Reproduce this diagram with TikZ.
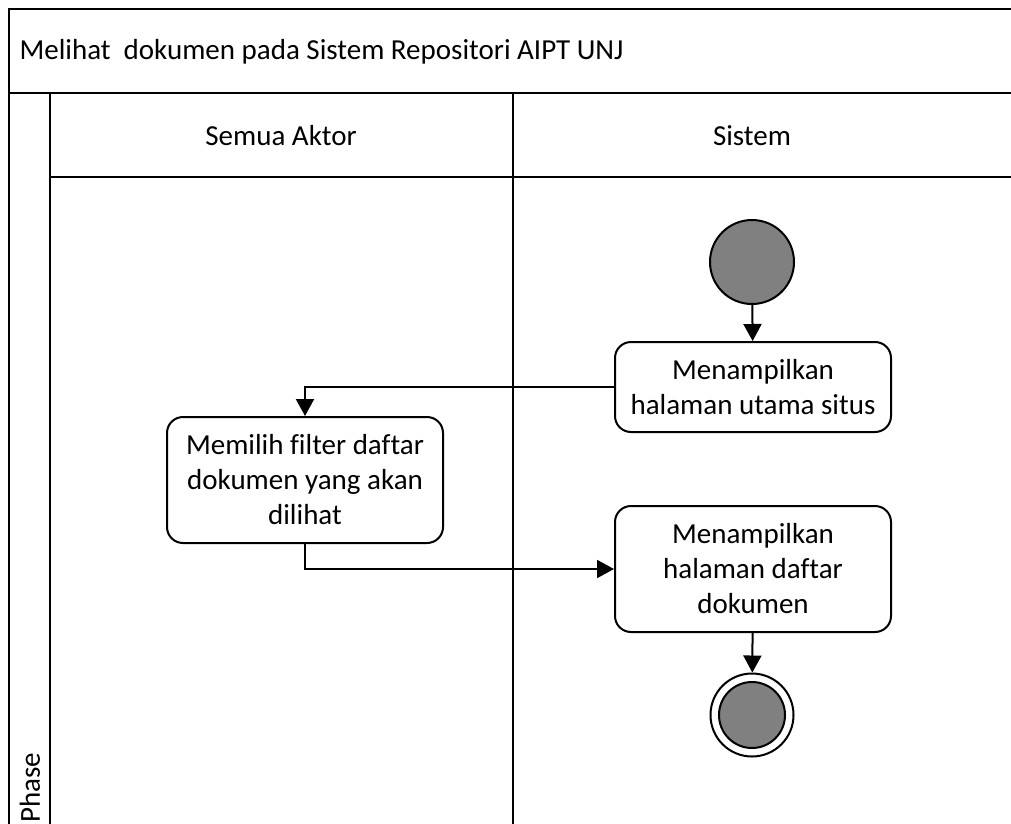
\documentclass[tikz,border=0pt]{standalone}
\usepackage{fontspec}
\setmainfont[Ligatures=NoCommon]{Carlito}
\usetikzlibrary{arrows.meta}
\definecolor{dotgray}{HTML}{808080}
\begin{document}
\begin{tikzpicture}[x=1pt,y=-1pt,
  every node/.style={font=\fontsize{29}{35}\selectfont},
  frameline/.style={line width=2.4pt},
  action/.style={draw, line width=2pt, rounded corners=16pt, align=center,
    minimum width=276pt, inner sep=0pt},
  startdot/.style={circle, draw, line width=2pt, fill=dotgray, minimum size=84pt, inner sep=0pt},
  flow/.style={line width=2pt, -{Triangle[length=17pt,width=18pt]}}]
\useasboundingbox (0,0) rectangle (1011,823);
% swimlane frame
\draw[frameline] (1030,9) -- (9,9) -- (9,840);
\draw[frameline] (9,93) -- (1030,93);
\draw[frameline] (50,93) -- (50,840);
\draw[frameline] (50,177) -- (1030,177);
\draw[frameline] (513,93) -- (513,840);
\node[anchor=west] (title) at (16,52) {Melihat\ \ dokumen pada Sistem Repositori AIPT UNJ};
\node (laneA) at (281,136) {Semua Aktor};
\node (laneB) at (752,136) {Sistem};
\node[rotate=90, anchor=west] (phase) at (30,826) {Phase};
% activity nodes
\node[startdot] (start) at (752,262) {};
\node[action, minimum height=90pt] (home) at (753,387) {Menampilkan\\halaman utama situs};
\node[action, minimum height=126pt] (filter) at (305,480) {Memilih filter daftar\\dokumen yang akan\\dilihat};
\node[action, minimum height=126pt] (list) at (753,569) {Menampilkan\\halaman daftar\\dokumen};
\node[circle, draw, line width=2pt, minimum size=83pt, inner sep=0pt] (final) at (752,715) {};
\node[circle, draw, line width=2pt, fill=dotgray, minimum size=66pt, inner sep=0pt] (finaldot) at (final) {};
% control flow
\draw[flow] (start) -- (home);
\draw[flow] (home.west) -| (filter.north);
\draw[flow] (filter.south) |- (list.west);
\draw[flow] (list) -- (final);
\end{tikzpicture}
\end{document}
